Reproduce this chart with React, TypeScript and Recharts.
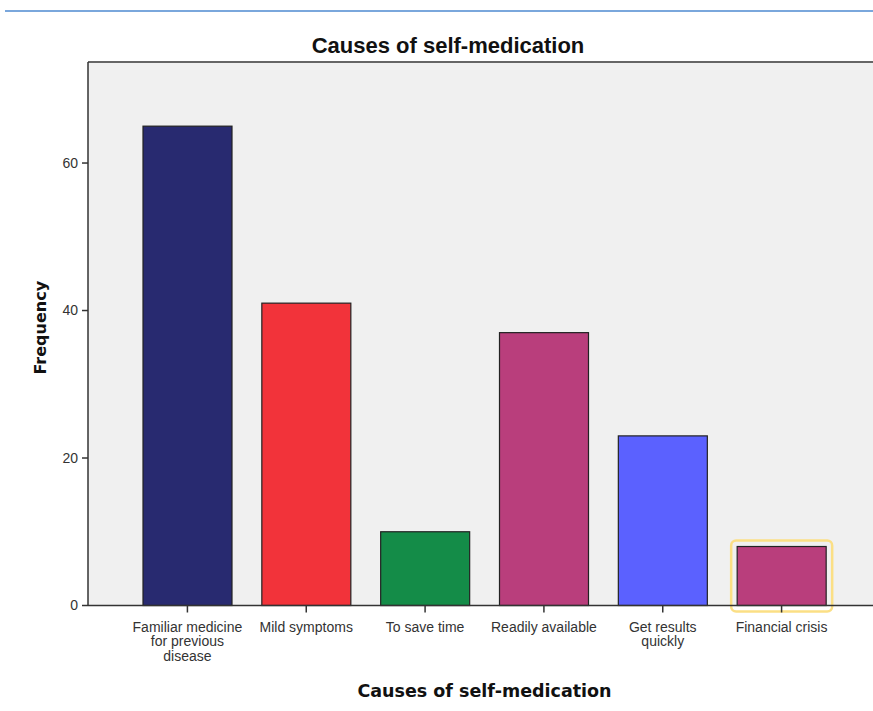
import { BarChart, Bar, XAxis, YAxis, CartesianGrid, ReferenceLine, Cell } from "recharts";

const categories = [
  "Familiar medicine\nfor previous\ndisease",
  "Mild symptoms",
  "To save time",
  "Readily available",
  "Get results\nquickly",
  "Financial crisis",
];
const frequencies = [65, 41, 10, 37, 23, 8];
const barColors = ["#282a70", "#f2333a", "#148c48", "#b93e7c", "#5b61ff", "#b93e7c"];
const yTicks = [0, 20, 40, 60];
const highlighted = "Financial crisis";

const data = categories.map((name, i) => ({ name, value: frequencies[i] }));

const SANS = "'Liberation Sans', Arial, sans-serif";
const BOLD = "'DejaVu Sans', sans-serif";
const Y_MAX = 73.7;

function CategoryTick(props: any) {
  const { x, y, payload } = props;
  const lines = String(payload.value).split("\n");
  return (
    <g>
      <line x1={x} x2={x} y1={y - 8} y2={y - 1} stroke="#333" strokeWidth={1.5} />
      <text x={x} y={y + 18} textAnchor="middle" fontFamily={SANS} fontSize={14} fill="#333">
        {lines.map((l, i) => (
          <tspan key={i} x={x} dy={i === 0 ? 0 : 14.5}>
            {l}
          </tspan>
        ))}
      </text>
    </g>
  );
}

function OutlinedBar(props: any) {
  const { x, y, width, height, fill, payload } = props;
  return (
    <g>
      <rect x={x} y={y} width={width} height={height} fill={fill} stroke="#222" strokeWidth={1.2} />
      {payload.name === highlighted && (
        <rect
          x={x - 6}
          y={y - 6}
          width={width + 12}
          height={height + 12}
          rx={5}
          fill="none"
          stroke="#fbdf85"
          strokeWidth={2.5}
        />
      )}
    </g>
  );
}

export default function App() {
  return (
    <div style={{ position: "absolute", left: 0, top: 0, width: 873, height: 711, background: "#fff" }}>
      <div
        style={{
          position: "absolute",
          left: 5,
          top: 10,
          width: 868,
          height: 0,
          borderTop: "2px solid #7aa7dc",
        }}
      />
      <BarChart
        width={873}
        height={711}
        data={data}
        margin={{ top: 62, right: 0, bottom: 45.5, left: 28 }}
      >
        <text x={448} y={53} textAnchor="middle" fontFamily={SANS} fontWeight="bold" fontSize={22} fill="#111">
          Causes of self-medication
        </text>
        <CartesianGrid fill="#f0f0f0" horizontal={false} vertical={false} />
        <ReferenceLine y={Y_MAX} stroke="#666" strokeWidth={2} />
        <XAxis
          dataKey="name"
          height={60}
          padding={{ left: 40, right: 32 }}
          tickLine={false}
          axisLine={{ stroke: "#333", strokeWidth: 1.5 }}
          tick={<CategoryTick />}
          interval={0}
          label={{
            content: (p: any) => {
              const vb = p.viewBox;
              return (
                <text
                  x={vb.x + 40 + (vb.width - 72) / 2}
                  y={vb.y + 91}
                  textAnchor="middle"
                  fontFamily={BOLD}
                  fontWeight="bold"
                  fontSize={17.5}
                  fill="#111"
                >
                  Causes of self-medication
                </text>
              );
            },
          }}
        />
        <YAxis
          width={60}
          domain={[0, Y_MAX]}
          ticks={yTicks}
          tickSize={6}
          tickLine={{ stroke: "#333", strokeWidth: 1.5 }}
          axisLine={{ stroke: "#333", strokeWidth: 1.5 }}
          tick={{ fontFamily: SANS, fontSize: 14, fill: "#333" }}
          tickMargin={4}
          label={{
            content: (p: any) => {
              const vb = p.viewBox;
              const cx = vb.x + 12;
              const cy = vb.y + vb.height / 2 - 6;
              return (
                <text
                  x={cx}
                  y={cy}
                  transform={`rotate(-90, ${cx}, ${cy})`}
                  textAnchor="middle"
                  dominantBaseline="central"
                  fontFamily={BOLD}
                  fontWeight="bold"
                  fontSize={16}
                  fill="#111"
                >
                  Frequency
                </text>
              );
            },
          }}
        />
        <Bar dataKey="value" barSize={89} shape={<OutlinedBar />} isAnimationActive={false}>
          {data.map((d, i) => (
            <Cell key={d.name} fill={barColors[i]} />
          ))}
        </Bar>
      </BarChart>
    </div>
  );
}
